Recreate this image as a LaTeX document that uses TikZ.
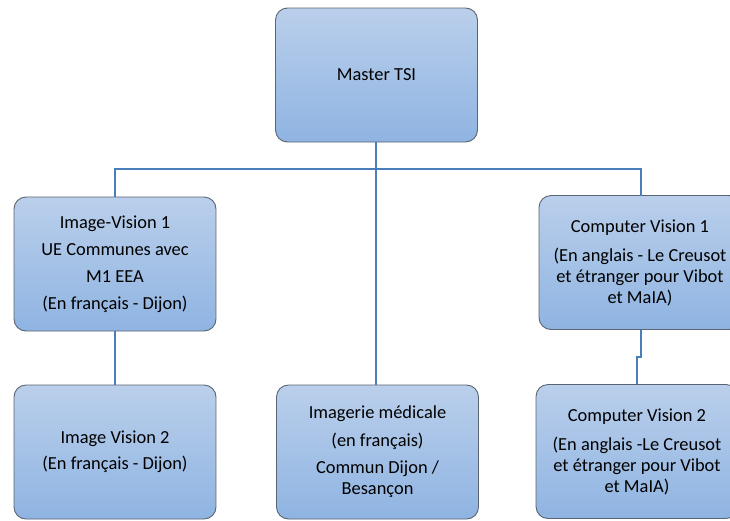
\documentclass[tikz,border=0pt]{standalone}
\usepackage{fontspec}
\setmainfont{Carlito}
\definecolor{boxtop}{RGB}{186,207,235}
\definecolor{boxbot}{RGB}{143,180,226}
\definecolor{boxline}{RGB}{90,100,115}
\definecolor{conn}{RGB}{74,126,187}
\tikzset{
  orgbox/.style={rectangle, rounded corners=12pt, draw=boxline, line width=0.9pt,
    top color=boxtop, bottom color=boxbot, minimum width=202pt, minimum height=134pt,
    inner sep=0pt, align=center, font=\fontsize{18.4}{21}\selectfont},
  link/.style={draw=conn, line width=2.6pt}
}
\begin{document}
\begin{tikzpicture}[x=1pt,y=-1pt]
\useasboundingbox (0,0) rectangle (730,520);
\clip (0,0) rectangle (730,520);
\fill[white] (0,0) rectangle (730,520);
\coordinate (bus) at (376,169);
\node[orgbox] (M) at (376.5,75) {Master TSI};
\node[orgbox] (IV1) at (115,264) {Image-Vision 1\\[6pt]UE Communes avec\\[6pt]M1 EEA\\[6pt](En français - Dijon)};
\node[orgbox] (IV2) at (115,452) {Image Vision 2\\[5pt](En français - Dijon)};
\node[orgbox] (IM) at (377.5,452) {Imagerie médicale\\[7pt](en français)\\[6pt]Commun Dijon /\\Besançon};
\node[orgbox] (CV1) at (640,262.5) {Computer Vision 1\\[8pt](En anglais - Le Creusot\\et étranger pour Vibot\\et MaIA)};
\node[orgbox] (CV2) at (637,451.5) {Computer Vision 2\\[8pt](En anglais -Le Creusot\\et étranger pour Vibot\\et MaIA)};
\coordinate (cvtop) at (641,196);
\coordinate (cvbot) at (641,330);
\draw[link] (M.south -| bus) -- (IM.north -| bus);
\draw[link] (IV1.north) -- (IV1.north |- bus) -- (cvtop |- bus) -- (cvtop);
\draw[link] (IV1.south) -- (IV2.north);
\draw[link] (cvbot) -- ++(0,27) -| (CV2.north);
\end{tikzpicture}
\end{document}
